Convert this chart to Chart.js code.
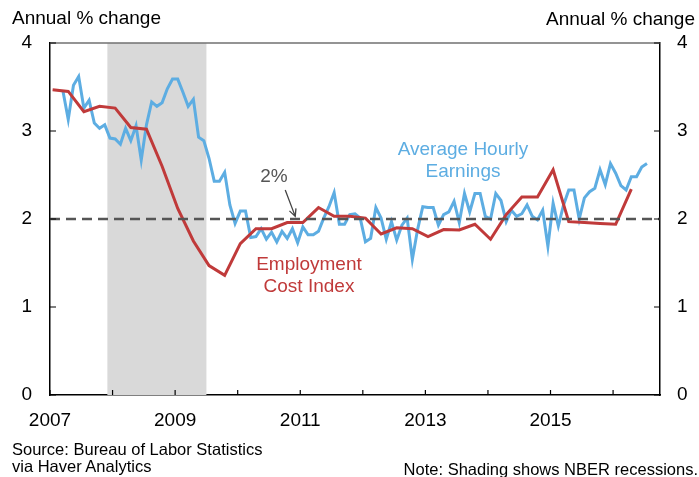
<!DOCTYPE html>
<html>
<head>
<meta charset="utf-8">
<script src="https://cdn.jsdelivr.net/npm/chart.js@4.4.1/dist/chart.umd.min.js"></script>
<style>
  html, body { margin: 0; padding: 0; background: #fff; }
  #wrap { position: relative; width: 699px; height: 477px; font-family: "Liberation Sans", Arial, sans-serif; }
  #chart { position: absolute; left: 0; top: 0; }
  .txt { position: absolute; white-space: nowrap; }
  .title { font-size: 19px; line-height: 19px; color: #000; }
  .small { font-size: 16.5px; line-height: 17px; color: #000; }
  .lab { font-size: 19px; line-height: 22px; text-align: center; width: 160px; }
</style>
</head>
<body>
<div id="wrap">
  <canvas id="chart" width="699" height="477"></canvas>
  <div class="txt title" style="left:12px; top:8px;">Annual % change</div>
  <div class="txt title" style="right:4px; top:9px; text-align:right;">Annual % change</div>
  <div class="txt small" style="left:12px; top:441px;">Source: Bureau of Labor Statistics<br>via Haver Analytics</div>
  <div class="txt small" style="right:1px; top:461px; text-align:right;">Note: Shading shows NBER recessions.</div>
  <div class="txt lab" style="left:383px; top:138px; color:#5dade2;">Average Hourly<br>Earnings</div>
  <div class="txt lab" style="left:229px; top:253px; color:#c03a3a;">Employment<br>Cost Index</div>
  <div class="txt lab" style="left:194px; top:165px; color:#555;">2%</div>
</div>
<script>
// Average hourly earnings, 12-month % change, monthly from Mar 2007
const aheStart = '2007-03';
const aheValues = [
  3.45, 3.13, 3.52, 3.62, 3.26, 3.35, 3.09, 3.03, 3.07, 2.92,              // 2007 Mar-Dec
  2.91, 2.85, 3.03, 2.89, 3.06, 2.67, 3.07, 3.33, 3.28, 3.32, 3.48, 3.59,  // 2008
  3.59, 3.44, 3.28, 3.36, 2.93, 2.89, 2.69, 2.43, 2.43, 2.53, 2.16, 1.95,  // 2009
  2.09, 2.09, 1.79, 1.80, 1.89, 1.77, 1.85, 1.74, 1.86, 1.78, 1.89, 1.73,  // 2010
  1.91, 1.82, 1.82, 1.86, 2.01, 2.14, 2.30, 1.94, 1.94, 2.05, 2.06, 2.01,  // 2011
  1.74, 1.78, 2.13, 2.01, 1.77, 1.97, 1.76, 1.93, 2.01, 1.54, 1.88, 2.14,  // 2012
  2.13, 2.13, 1.93, 2.05, 2.08, 2.20, 1.96, 2.29, 2.08, 2.29, 2.29, 2.03,  // 2013
  2.00, 2.29, 2.21, 1.97, 2.10, 2.03, 2.06, 2.16, 2.03, 1.99, 2.10, 1.69,  // 2014
  2.18, 1.92, 2.16, 2.33, 2.33, 2.00, 2.24, 2.31, 2.35, 2.56, 2.39, 2.63,  // 2015
  2.52, 2.38, 2.33, 2.48, 2.48, 2.59, 2.63                                 // 2016 Jan-Jul
];

// Employment cost index, 12-month % change, quarterly from 2007 Q1
const eciStart = '2007Q1';
const eciValues = [
  3.47, 3.45, 3.22, 3.28,   // 2007
  3.26, 3.04, 3.02, 2.60,   // 2008
  2.12, 1.75, 1.47, 1.36,   // 2009
  1.72, 1.89, 1.89, 1.96,   // 2010
  1.96, 2.13, 2.03, 2.03,   // 2011
  2.01, 1.83, 1.90, 1.89,   // 2012
  1.80, 1.88, 1.875, 1.94,  // 2013
  1.77, 2.05, 2.25, 2.25,   // 2014
  2.56, 1.97, 1.96, 1.95,   // 2015
  1.94, 2.34                // 2016
];

const refLevel = 2;
const recessions = [[2007.917, 2009.5]];   // NBER: Dec 2007 - Jun 2009
const xMin = 2007, xMax = 2016.75;
const yTicks = [0, 1, 2, 3, 4];

const blue = '#5dade2';
const red = '#c03a3a';

// month index -> decimal year at mid-month
function monthDate(start, i) {
  const [y, m] = start.split('-').map(Number);
  const idx = (m - 1) + i;
  return y + Math.floor(idx / 12) + (idx % 12) / 12 + 1 / 24;
}
function quarterDate(start, i) {
  const y = Number(start.slice(0, 4)), q = Number(start.slice(5)) - 1 + i;
  return y + Math.floor(q / 4) + (q % 4) * 3 / 12 + 1 / 24;
}

const ahePoints = aheValues.map((v, i) => ({ x: monthDate(aheStart, i), y: v }));
const eciPoints = eciValues.map((v, i) => ({ x: quarterDate(eciStart, i), y: v }));

const font = { family: '"Liberation Sans", Arial, sans-serif', size: 19 };

const frame = {
  id: 'frame',
  beforeDatasetsDraw(chart) {
    const { ctx, chartArea: a, scales: { x } } = chart;
    ctx.save();
    ctx.fillStyle = '#d9d9d9';
    recessions.forEach(([s, e]) => {
      const x0 = x.getPixelForValue(s), x1 = x.getPixelForValue(e);
      ctx.fillRect(x0, a.top, x1 - x0, a.bottom - a.top);
    });
    ctx.restore();
  },
  afterDraw(chart) {
    const { ctx, chartArea: a, scales: { x, y } } = chart;
    ctx.save();
    // top border
    ctx.strokeStyle = '#707070';
    ctx.lineWidth = 1.5;
    ctx.beginPath();
    ctx.moveTo(a.left, a.top);
    ctx.lineTo(a.right, a.top);
    ctx.stroke();
    // inward ticks
    ctx.strokeStyle = '#000';
    ctx.lineWidth = 1.2;
    x.ticks.forEach(t => {
      const px = x.getPixelForValue(t.value);
      ctx.beginPath();
      ctx.moveTo(px, a.bottom);
      ctx.lineTo(px, a.bottom - 5);
      ctx.stroke();
    });
    yTicks.forEach(v => {
      const py = y.getPixelForValue(v);
      ctx.beginPath();
      ctx.moveTo(a.left, py);
      ctx.lineTo(a.left + 6, py);
      ctx.moveTo(a.right, py);
      ctx.lineTo(a.right - 6, py);
      ctx.stroke();
    });
    // arrow pointing at the 2% line
    const x0 = x.getPixelForValue(2010.76), y0 = y.getPixelForValue(2.33);
    const x1 = x.getPixelForValue(2010.92), y1 = y.getPixelForValue(2.03);
    ctx.strokeStyle = '#444';
    ctx.lineWidth = 1.3;
    ctx.beginPath();
    ctx.moveTo(x0, y0);
    ctx.lineTo(x1, y1);
    const ang = Math.atan2(y1 - y0, x1 - x0);
    ctx.moveTo(x1 - 8 * Math.cos(ang - 0.45), y1 - 8 * Math.sin(ang - 0.45));
    ctx.lineTo(x1, y1);
    ctx.lineTo(x1 - 8 * Math.cos(ang + 0.45), y1 - 8 * Math.sin(ang + 0.45));
    ctx.stroke();
    ctx.restore();
  }
};

const yAxis = (pos, width) => ({
  type: 'linear',
  position: pos,
  min: 0,
  max: 4,
  grid: { display: true, drawOnChartArea: false, drawTicks: false },
  border: { display: true, color: '#000', width: 1.5 },
  ticks: { stepSize: 1, padding: pos === 'left' ? 18 : 17, color: '#000', font },
  afterFit: s => { s.width = width; }
});

new Chart(document.getElementById('chart'), {
  type: 'line',
  data: {
    datasets: [
      { label: '2%', data: [{ x: xMin, y: refLevel }, { x: xMax, y: refLevel }],
        borderColor: '#555', borderWidth: 2.5, borderDash: [10, 6], pointRadius: 0, order: 0 },
      { label: 'Employment Cost Index', data: eciPoints, borderColor: red, borderWidth: 3,
        pointRadius: 0, tension: 0, order: 1 },
      { label: 'Average Hourly Earnings', data: ahePoints, borderColor: blue, borderWidth: 3,
        pointRadius: 0, tension: 0, order: 2 }
    ]
  },
  options: {
    responsive: false,
    animation: false,
    layout: { padding: { top: 43, left: 0, right: 0, bottom: 0 } },
    plugins: { legend: { display: false }, tooltip: { enabled: false } },
    scales: {
      x: {
        type: 'linear',
        min: xMin,
        max: xMax,
        grid: { display: true, drawOnChartArea: false, drawTicks: false },
        border: { display: true, color: '#000', width: 1.5 },
        ticks: {
          stepSize: 1, includeBounds: false, autoSkip: false, maxRotation: 0,
          padding: 14, color: '#000', font,
          callback: v => (Math.round(v) % 2 === 1 ? String(Math.round(v)) : '')
        },
        afterFit: s => { s.height = 82; }
      },
      y: yAxis('left', 50),
      y2: yAxis('right', 39)
    }
  },
  plugins: [frame]
});
</script>
</body>
</html>
